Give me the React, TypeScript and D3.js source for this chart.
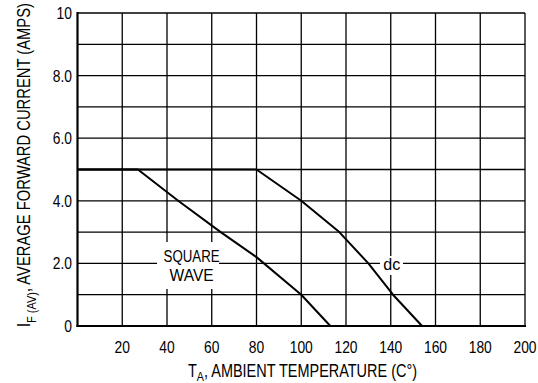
import { line, scaleLinear } from "d3";

// T_A (°C) vs I_F(AV) (A)
const squareTemp = [0, 27, 45, 64, 80, 100, 113];
const squareAmps = [5, 5, 4, 3, 2.2, 1, 0];
const dcTemp = [0, 80, 100, 117, 130, 141, 154];
const dcAmps = [5, 5, 4, 3, 2, 1, 0];

const xTicks = [20, 40, 60, 80, 100, 120, 140, 160, 180, 200];
const yGrid = [1, 2, 3, 4, 5, 6, 7, 8, 9, 10];
const yLabels = [
  { v: 0, t: "0" },
  { v: 2, t: "2.0" },
  { v: 4, t: "4.0" },
  { v: 6, t: "6.0" },
  { v: 8, t: "8.0" },
  { v: 10, t: "10" },
];

const W = 538;
const H = 383;
const left = 77.5;
const right = 525;
const top = 13;
const bottom = 326;
const font = "'Liberation Sans', Arial, sans-serif";

// the source lettering is narrow, so squeeze glyphs to the measured widths
const labelWidth = (s: string) =>
  s.split("").reduce((a, c) => a + (c === "." ? 3.8 : 7.7), 0);

export default function App() {
  const x = scaleLinear().domain([0, 200]).range([left, right]);
  const y = scaleLinear().domain([0, 10]).range([bottom, top]);

  const path = (ts: number[], vs: number[]) =>
    line<number>()
      .x((d) => x(d))
      .y((_, i) => y(vs[i]))(ts) as string;

  return (
    <svg
      width={W}
      height={H}
      style={{ position: "absolute", left: 0, top: 0, background: "#fff" }}
      fontFamily={font}
    >
      <rect width={W} height={H} fill="#fff" />
      {/* grid */}
      <g stroke="#000" strokeWidth={1.3}>
        {xTicks.map((t) => (
          <line key={"vx" + t} x1={x(t)} x2={x(t)} y1={y(0)} y2={y(10)} />
        ))}
        {yGrid.map((v) => (
          <line key={"hy" + v} x1={x(0)} x2={x(200)} y1={y(v)} y2={y(v)} />
        ))}
      </g>
      {/* label knock-outs */}
      <rect x={157} y={242} width={62} height={47} fill="#fff" />
      <rect x={380} y={256} width={23} height={19} fill="#fff" />
      {/* axes */}
      <g stroke="#000" strokeWidth={2.2} fill="none">
        <line x1={x(0)} x2={x(0)} y1={y(10) - 1} y2={y(0) + 1} />
        <line x1={x(0) - 1} x2={x(200) + 1} y1={y(0)} y2={y(0)} />
      </g>
      {/* curves */}
      <g stroke="#000" strokeWidth={2} fill="none" strokeLinejoin="round">
        <path d={path(squareTemp, squareAmps)} />
        <path d={path(dcTemp, dcAmps)} />
      </g>
      {/* curve labels */}
      <g fontSize={16} textAnchor="middle" fill="#000">
        <text x={x(51)} y={y(2.03)} textLength={56} lengthAdjust="spacingAndGlyphs">
          SQUARE
        </text>
        <text x={x(51)} y={y(1.45)} textLength={44} lengthAdjust="spacingAndGlyphs">
          WAVE
        </text>
        <text x={x(140.5)} y={y(1.8)} textLength={17} lengthAdjust="spacingAndGlyphs">
          dc
        </text>
      </g>
      {/* tick labels */}
      <g fontSize={16.5} fill="#000">
        {xTicks.map((t) => (
          <text
            key={"xt" + t}
            x={x(t)}
            y={353}
            textAnchor="middle"
            textLength={labelWidth(String(t))}
            lengthAdjust="spacingAndGlyphs"
          >
            {t}
          </text>
        ))}
        {yLabels.map((d) => (
          <text
            key={"yt" + d.v}
            x={72}
            y={y(d.v) + 6}
            textAnchor="end"
            textLength={labelWidth(d.t)}
            lengthAdjust="spacingAndGlyphs"
          >
            {d.t}
          </text>
        ))}
      </g>
      {/* x title */}
      <text
        x={188}
        y={377}
        fontSize={17.5}
        fill="#000"
        textLength={229}
        lengthAdjust="spacingAndGlyphs"
      >
        <tspan>T</tspan>
        <tspan dy={4} fontSize={13}>A</tspan>
        <tspan dy={-4}>, AMBIENT TEMPERATURE (C°)</tspan>
      </text>
      {/* y title */}
      <text
        transform={`translate(30, 327) rotate(-90)`}
        fontSize={17.5}
        fill="#000"
        textLength={324}
        lengthAdjust="spacingAndGlyphs"
      >
        <tspan>I</tspan>
        <tspan dy={6} fontSize={13}>F (AV)</tspan>
        <tspan dy={-6}>, AVERAGE FORWARD CURRENT (AMPS)</tspan>
      </text>
    </svg>
  );
}
